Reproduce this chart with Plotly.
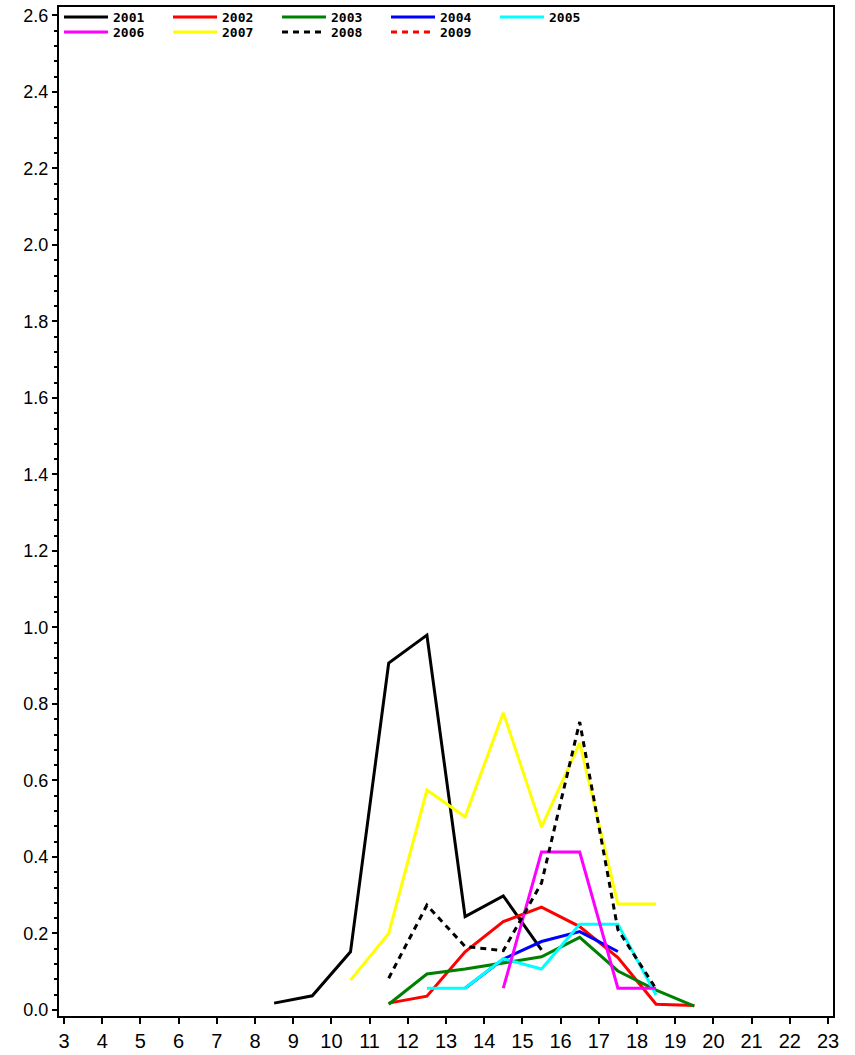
import plotly.graph_objects as go

x_2001 = [8.5, 9.5, 10.5, 11.5, 12.5, 13.5, 14.5, 15.5]
y_2001 = [0.018, 0.037, 0.152, 0.907, 0.980, 0.244, 0.298, 0.157]

x_2002 = [11.5, 12.5, 13.5, 14.5, 15.5, 16.5, 17.5, 18.5, 19.5]
y_2002 = [0.018, 0.036, 0.152, 0.231, 0.269, 0.218, 0.137, 0.015, 0.012]

x_2003 = [11.5, 12.5, 13.5, 14.5, 15.5, 16.5, 17.5, 18.5, 19.5]
y_2003 = [0.015, 0.094, 0.107, 0.124, 0.139, 0.190, 0.102, 0.052, 0.010]

x_2004 = [13.5, 14.5, 15.5, 16.5, 17.5]
y_2004 = [0.057, 0.133, 0.179, 0.205, 0.153]

x_2005 = [12.5, 13.5, 14.5, 15.5, 16.5, 17.5, 18.5]
y_2005 = [0.057, 0.057, 0.134, 0.107, 0.224, 0.224, 0.039]

x_2006 = [14.5, 15.5, 16.5, 17.5, 18.5]
y_2006 = [0.057, 0.413, 0.413, 0.057, 0.057]

x_2007 = [10.5, 11.5, 12.5, 13.5, 14.5, 15.5, 16.5, 17.5, 18.5]
y_2007 = [0.078, 0.200, 0.575, 0.505, 0.777, 0.478, 0.698, 0.277, 0.277]

x_2008 = [11.5, 12.5, 13.5, 14.5, 15.5, 16.5, 17.5, 18.5]
y_2008 = [0.083, 0.274, 0.166, 0.155, 0.332, 0.753, 0.210, 0.055]

x_2009 = [None]
y_2009 = [None]

x_ticks = list(range(3, 24))
y_ticks = [0.0, 0.2, 0.4, 0.6, 0.8, 1.0, 1.2, 1.4, 1.6, 1.8, 2.0, 2.2, 2.4, 2.6]
y_ticklabels = ["%.1f" % v for v in y_ticks]

series = [
    ("2001", x_2001, y_2001, "#000000", "solid", "legend"),
    ("2002", x_2002, y_2002, "#FF0000", "solid", "legend"),
    ("2003", x_2003, y_2003, "#008000", "solid", "legend"),
    ("2004", x_2004, y_2004, "#0000FF", "solid", "legend"),
    ("2005", x_2005, y_2005, "#00FFFF", "solid", "legend"),
    ("2006", x_2006, y_2006, "#FF00FF", "solid", "legend2"),
    ("2007", x_2007, y_2007, "#FFFF00", "solid", "legend2"),
    ("2008", x_2008, y_2008, "#000000", "6px,5px", "legend2"),
    ("2009", x_2009, y_2009, "#FF0000", "6px,5px", "legend2"),
]

fig = go.Figure()
for name, xs, ys, color, dash, leg in series:
    fig.add_trace(go.Scatter(
        x=xs, y=ys, mode="lines", name=name,
        line=dict(color=color, width=3, dash=dash),
        legend=leg,
    ))

W, H = 855, 1055
L, R, T, B = 59, 22, 7, 39
ph = H - T - B

def py(ypx):
    return 1 - (ypx - T) / ph

legfont = dict(family="DejaVu Sans Mono", size=13, color="black", weight="bold")
common_leg = dict(
    orientation="h", xanchor="left", yanchor="middle",
    bgcolor="rgba(0,0,0,0)", borderwidth=0,
    entrywidth=50, entrywidthmode="pixels",
    itemwidth=44, font=legfont, tracegroupgap=0,
)

fig.update_layout(
    width=W, height=H,
    margin=dict(l=L, r=R, t=T, b=B, pad=0, autoexpand=False),
    paper_bgcolor="white", plot_bgcolor="white",
    showlegend=True,
    legend=dict(x=0.0, y=py(17), **common_leg),
    legend2=dict(x=0.0, y=py(32), **common_leg),
    xaxis=dict(
        range=[2.869, 23.131], tickmode="array", tickvals=x_ticks,
        ticktext=[str(v) for v in x_ticks],
        ticks="outside", ticklen=6, tickwidth=1.5, tickcolor="black",
        showline=True, linecolor="black", linewidth=2, mirror=True,
        showgrid=False, zeroline=False, ticklabeloverflow="allow",
        tickfont=dict(family="Liberation Sans", size=20, color="black"),
    ),
    yaxis=dict(
        range=[-0.0157, 2.622], tickmode="array", tickvals=y_ticks,
        ticktext=y_ticklabels,
        ticks="outside", ticklen=5, tickwidth=1.5, tickcolor="black",
        minor=dict(dtick=0.04, tick0=0, ticks="outside", ticklen=3,
                   tickwidth=1.5, tickcolor="black", showgrid=False),
        showline=True, linecolor="black", linewidth=2, mirror=True,
        showgrid=False, zeroline=False, ticklabeloverflow="allow",
        tickfont=dict(family="Liberation Sans", size=18, color="black"),
    ),
)

fig.write_html(
    "out.html",
    config={"displayModeBar": False},
    post_script="document.body.style.margin='0';document.body.style.overflow='hidden';",
)
